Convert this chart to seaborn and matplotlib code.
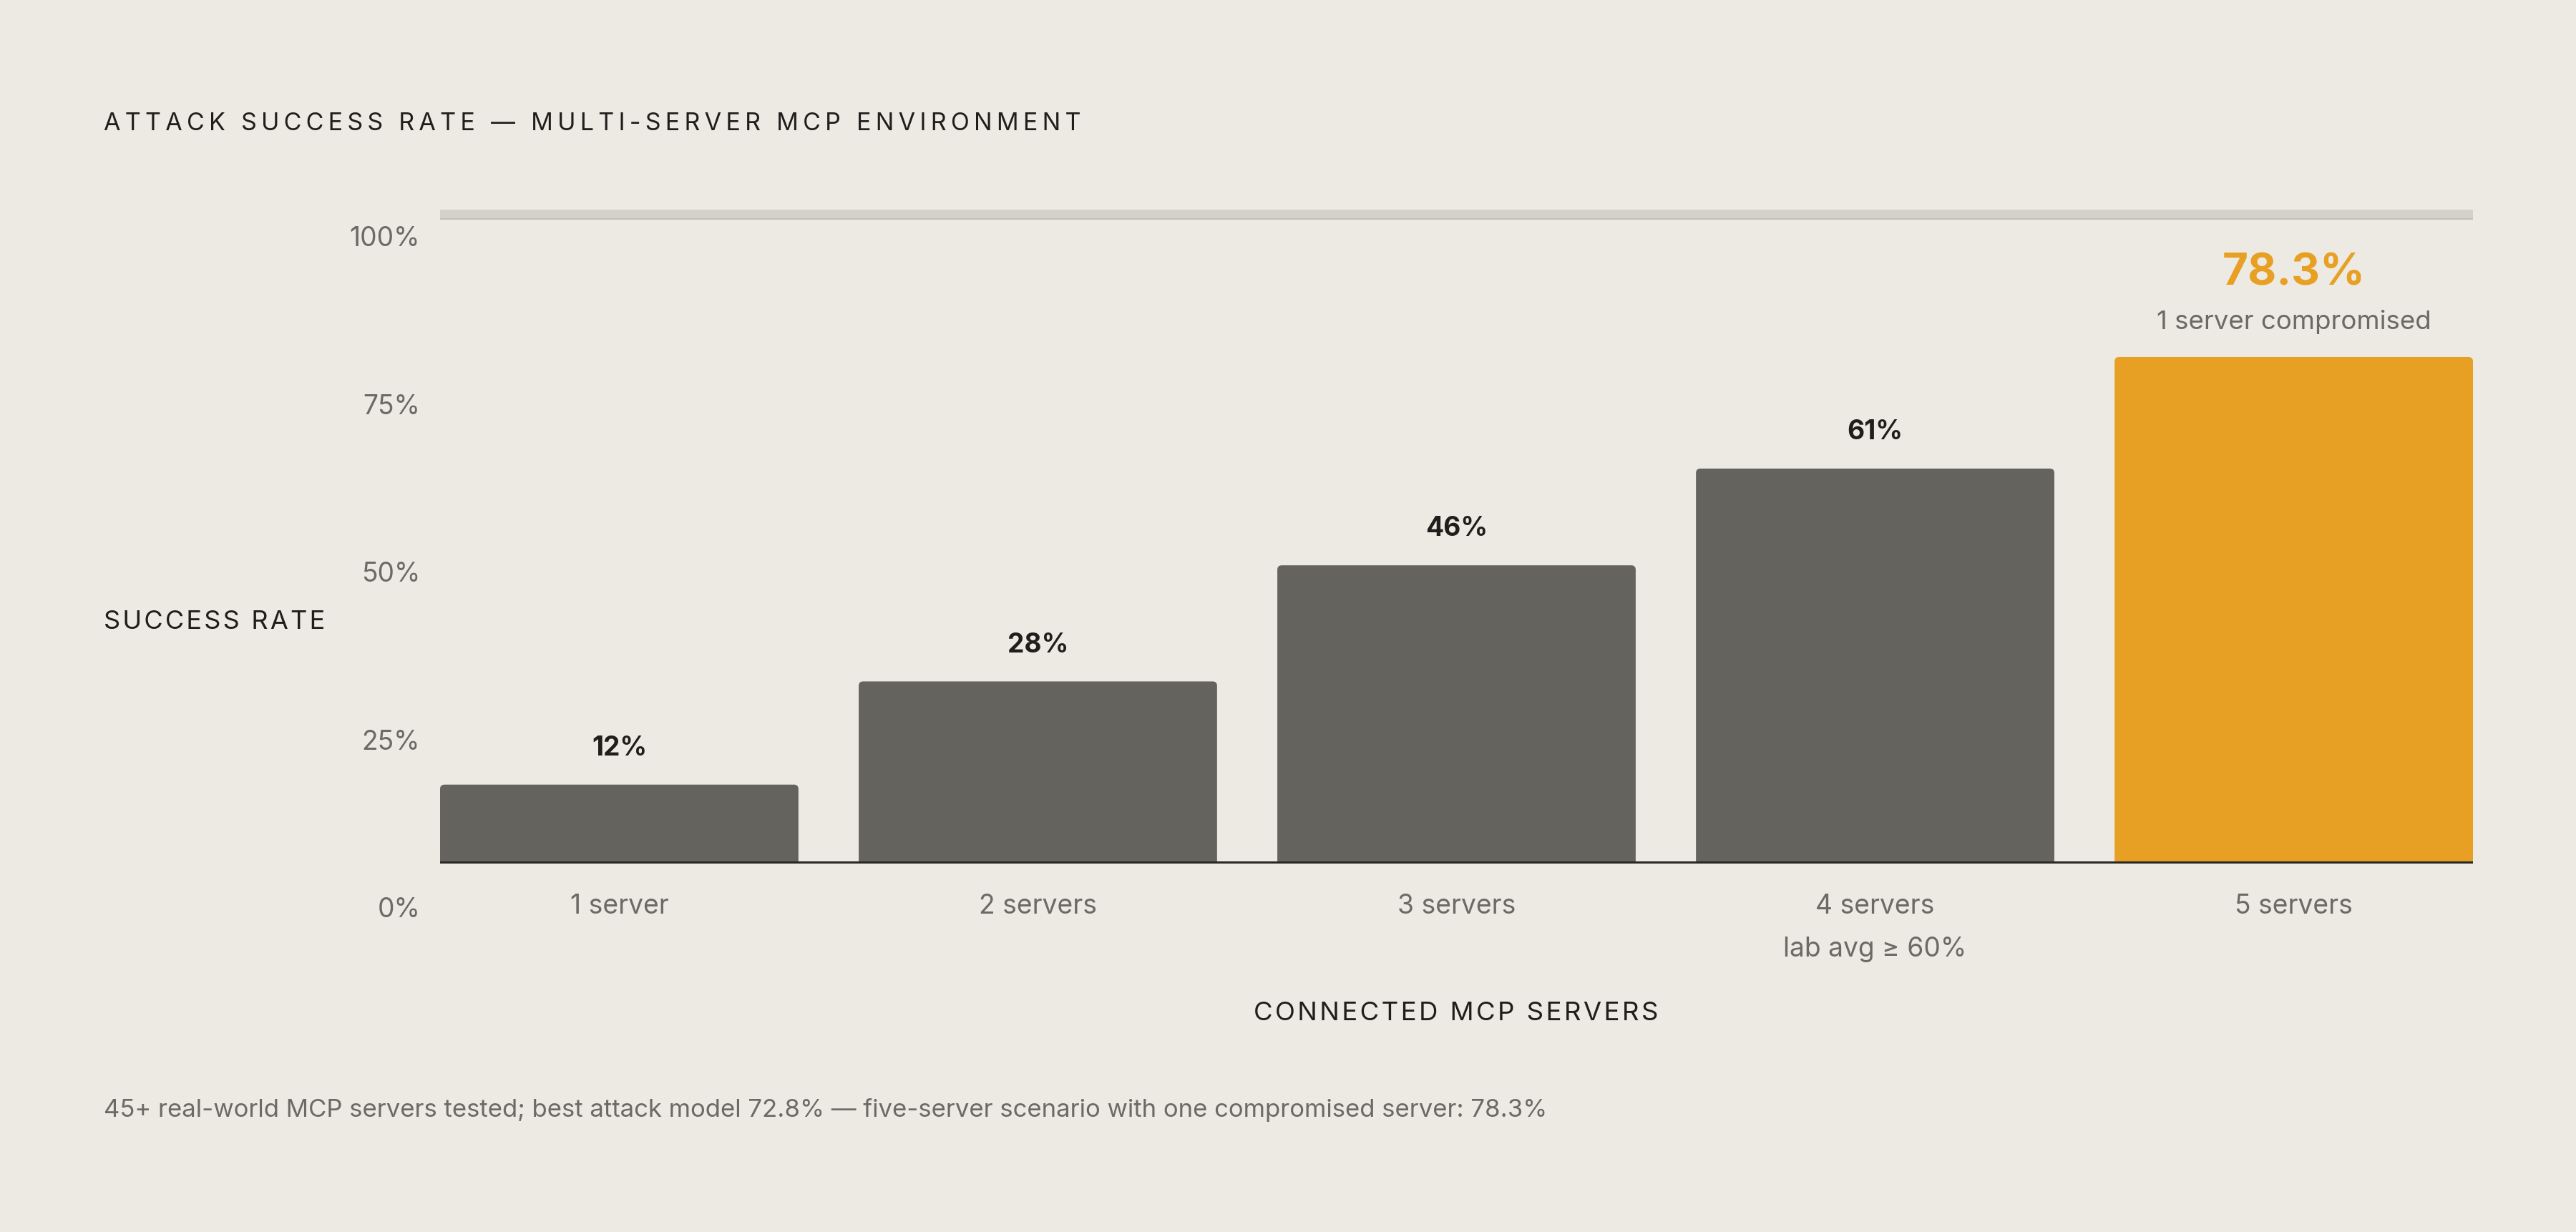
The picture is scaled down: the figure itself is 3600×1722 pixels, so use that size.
import numpy as np
import pandas as pd
import seaborn as sns
import matplotlib.pyplot as plt
from matplotlib.patches import FancyBboxPatch, Rectangle

# data
servers = ["1 server", "2 servers", "3 servers", "4 servers", "5 servers"]
success = [12, 28, 46, 61, 78.3]
value_labels = ["12%", "28%", "46%", "61%", "78.3%"]
sub_labels = ["", "", "", "lab avg \u2265 60%", ""]
ytick_labels = ["0%", "25%", "50%", "75%", "100%"]

BG = "#edeae3"
BAR = "#64635e"
ORANGE = "#e7a023"
DARK = "#1f1e1b"
GREY = "#6b6a65"

sns.set_theme(style="white")
plt.rcParams["font.family"] = ["Inter", "DejaVu Sans"]


def spaced(s, n=1):
    # fake letter spacing with hair spaces
    return ("\u200a" * n).join(s)


df = pd.DataFrame({"servers": servers, "success": success})
colors = [BAR] * 4 + [ORANGE]

fig = plt.figure(figsize=(18, 8.61), dpi=200, facecolor=BG)
ax = fig.add_axes([615 / 3600, 1 - 1277 / 1722, (3456 - 615) / 3600, (1277 - 285.3) / 1722])
ax.set_facecolor(BG)

sns.barplot(data=df, x="servers", y="success", hue="servers", palette=colors,
            width=0.856, legend=False, saturation=1, linewidth=0, ax=ax)

ax.set_xlim(-0.428, 4.428)
ax.set_ylim(-8, 102)

# swap the plain bars for ones with rounded top corners
rx, ry = 0.0105, 0.68
clip = Rectangle((-1, 0), 10, 200, transform=ax.transData)
for p in list(ax.patches):
    x, y, w, h = p.get_x(), p.get_y(), p.get_width(), p.get_height()
    fc = p.get_facecolor()
    p.remove()
    rb = FancyBboxPatch((x, y - ry), w, h + ry,
                        boxstyle=f"round,pad=0,rounding_size={rx}",
                        mutation_aspect=ry / rx, fc=fc, lw=0, zorder=2)
    ax.add_patch(rb)
    rb.set_clip_path(clip)

# top band at the 100% ceiling
ax.axhspan(99.6, 101.1, color="#d3d2ca", lw=0, zorder=0)
ax.axhline(99.7, color="#bebdb5", lw=0.6, zorder=0)
# baseline
ax.axhline(0, color="#2a2925", lw=1.1, zorder=3)

for s in ax.spines.values():
    s.set_visible(False)

# y ticks (label positions as drawn in the original)
ax.set_yticks([-7, 19, 45, 71, 97])
ax.set_yticklabels(ytick_labels)
ax.tick_params(axis="y", length=0, pad=10, labelsize=13.4, labelcolor=GREY)
ax.set_xticks([])
ax.set_xlabel("")
ax.set_ylabel("")

# value labels
for i, (v, lab) in enumerate(zip(success, value_labels)):
    if i < 4:
        ax.annotate(lab, (i, v), xytext=(0, 18.3), textcoords="offset points",
                    ha="center", va="center", fontsize=13.4, fontweight="bold", color=DARK)
    else:
        ax.annotate(lab, (i, v), xytext=(0, 42), textcoords="offset points",
                    ha="center", va="center", fontsize=22.3, fontweight="bold", color=ORANGE)
        ax.annotate("1 server compromised", (i, v), xytext=(0, 17.5), textcoords="offset points",
                    ha="center", va="center", fontsize=13.2, color=GREY)

# category labels below baseline
for i, (name, sub) in enumerate(zip(servers, sub_labels)):
    ax.annotate(name, (i, 0), xytext=(0, -22.3), textcoords="offset points",
                ha="center", va="center", fontsize=13.4, color=GREY, annotation_clip=False)
    if sub:
        ax.annotate(sub, (i, 0), xytext=(0, -43.8), textcoords="offset points",
                    ha="center", va="center", fontsize=13.4, color=GREY, annotation_clip=False)

fig.text(2035 / 3600, 1 - 1417 / 1722, spaced("CONNECTED MCP SERVERS", 1),
         ha="center", va="center", fontsize=13.2, color=DARK)
fig.text(145 / 3600, 1 - 870 / 1722, spaced("SUCCESS RATE", 1),
         ha="left", va="center", fontsize=13.0, color=DARK)
fig.text(145 / 3600, 1 - 173 / 1722, spaced("ATTACK SUCCESS RATE \u2014 MULTI-SERVER MCP ENVIRONMENT", 2),
         ha="left", va="center", fontsize=12.25, color=DARK)
fig.text(145 / 3600, 1 - 1551 / 1722,
         "45+ real-world MCP servers tested; best attack model 72.8% \u2014 five-server scenario with one compromised server: 78.3%",
         ha="left", va="center", fontsize=12.5, color=GREY)

fig.savefig("out.png", dpi=200, facecolor=BG)
